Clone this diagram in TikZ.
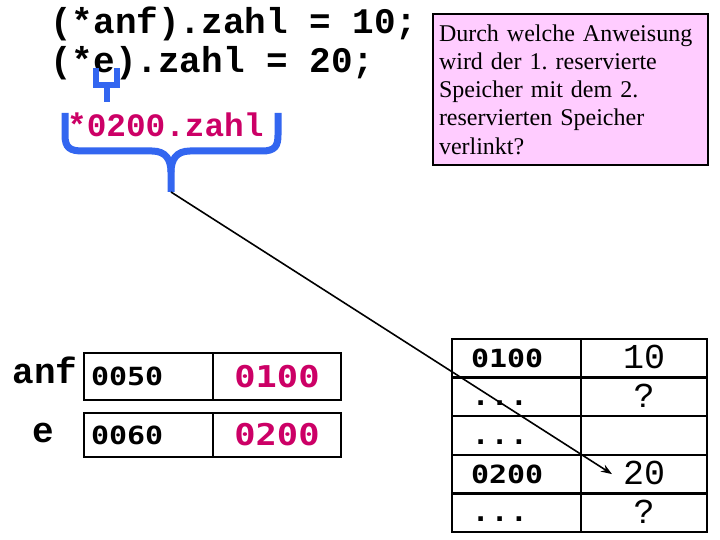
\documentclass[tikz,border=0pt]{standalone}
\usepackage{fontspec}
\setmainfont{Liberation Serif}
\setmonofont{Liberation Mono}
\newfontfamily\addrfont[FakeStretch=1.2]{DejaVu Sans Mono}
\newfontfamily\ptrfont[FakeStretch=1.18]{DejaVu Sans Mono}
\usetikzlibrary{arrows.meta,positioning}
\definecolor{bracecol}{RGB}{51,102,240}
\definecolor{ptrcol}{RGB}{204,0,102}
\definecolor{notecol}{RGB}{255,204,255}

\begin{document}
\begin{tikzpicture}[
  x=1pt, y=-1pt,
  code/.style={anchor=base west, inner sep=0pt, font=\fontsize{36}{40}\selectfont\ttfamily\bfseries},
  note/.style={draw, line width=2pt, fill=notecol, align=left, text width=263pt, inner xsep=6pt, minimum height=151pt, font=\fontsize{24}{28.25}\selectfont\frenchspacing},
  memcell/.style={draw, line width=2.5pt, outer sep=0pt, inner ysep=0pt, text depth=0pt},
  addr/.style={memcell, align=left, inner xsep=7pt, text width=115pt, text height=18pt, minimum height=47pt, font=\fontsize{25}{25}\selectfont\addrfont\bfseries},
  ptr/.style={memcell, minimum width=128pt, text height=21.9pt, minimum height=47pt, text=ptrcol, font=\fontsize{30}{30}\selectfont\ptrfont\bfseries},
  slotaddr/.style={memcell, align=left, inner xsep=19pt, text width=91pt, text height=18pt, minimum height=38.6pt, font=\fontsize{25}{25}\selectfont\addrfont\bfseries},
  slotval/.style={memcell, minimum width=126pt, text height=21pt, minimum height=38.6pt, font=\fontsize{35}{35}\selectfont\ttfamily},
  dotrow/.style={font=\fontsize{32}{32}\selectfont\ttfamily\bfseries},
  brace/.style={draw=bracecol, line width=7pt},
  arrow/.style={-{Stealth[length=11pt, width=8pt]}, line width=1.6pt}
]
\path[use as bounding box, fill=white] (0,0) rectangle (720,540);

% statements
\node[code] (assign1) at (50,34) {(*anf).zahl = 10;};
\node[code] (assign2) at (50,73) {(*e).zahl = 20;};
\node[code, text=ptrcol, font=\fontsize{32.7}{36}\selectfont\ttfamily\bfseries] (deref) at (67,137) {*0200.zahl};

% question
\node[note, anchor=north west] (question) at (432,13) {Durch welche Anweisung\\wird der 1. reservierte\\Speicher mit dem 2.\\reservierten Speicher\\verlinkt?};

% pointer variables
\node[code] (anflabel) at (12.5,383) {anf};
\node[code] (elabel) at (32.5,442) {e};
\node[addr, anchor=north west] (anfadr) at (84,353) {0050};
\node[ptr, right=0pt of anfadr] (anfval) {0100};
\node[addr, anchor=north west, minimum height=44pt] (eadr) at (84,413) {0060};
\node[ptr, right=0pt of eadr, minimum height=44pt] (eval) {0200};

% heap
\node[slotaddr, anchor=north west] (r1addr) at (452,339) {0100};
\node[slotval, right=0pt of r1addr] (r1val) {10};
\node[slotaddr, dotrow, below=0pt of r1addr] (r2addr) {...};
\node[slotval, right=0pt of r2addr] (r2val) {?};
\node[slotaddr, dotrow, below=0pt of r2addr] (r3addr) {...};
\node[slotval, right=0pt of r3addr] (r3val) {};
\node[slotaddr, below=0pt of r3addr] (r4addr) {0200};
\node[slotval, right=0pt of r4addr] (r4val) {20};
\node[slotaddr, dotrow, below=0pt of r4addr] (r5addr) {...};
\node[slotval, right=0pt of r5addr] (r5val) {?};

% braces
\coordinate (bracetip) at (171,192);
\draw[brace] (65,113) -- (65,135) .. controls (65,148) and (70,151) .. (83,151) -- (152,151) .. controls (166,151) and (171,160) .. (171,172) -- (bracetip);
\draw[brace] (171,172) .. controls (171,160) and (176,151) .. (190,151) -- (262,151) .. controls (275,151) and (278,146) .. (278,135) -- (278,113);
\draw[brace, line width=6pt] (96,68) -- (96,85.5) -- (117,85.5) -- (117,68);
\draw[brace, line width=6pt] (106.5,85.5) -- (106.5,102);

\coordinate (target) at ([xshift=-32pt]r4val.center);
\draw[arrow] (bracetip) -- (target);
\end{tikzpicture}
\end{document}
